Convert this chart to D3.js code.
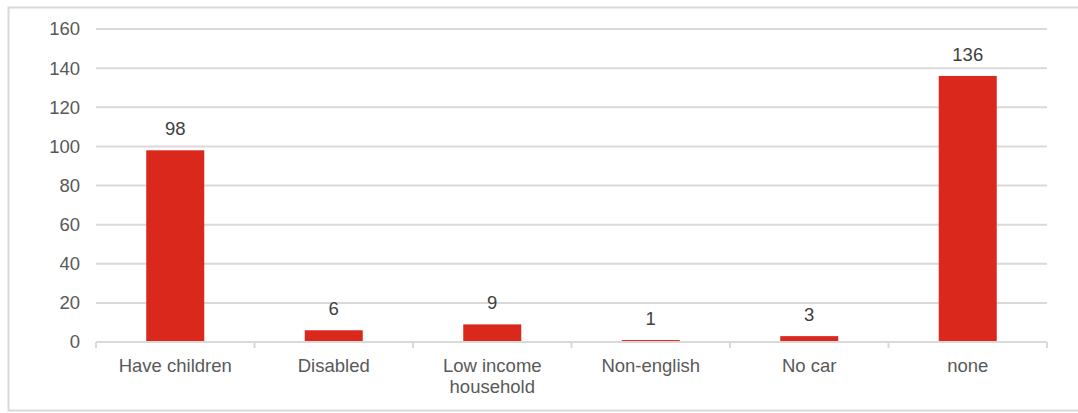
<!DOCTYPE html>
<html><head><meta charset="utf-8">
<script src="https://cdn.jsdelivr.net/npm/d3@7"></script>
<style>body{margin:0;background:#fff}svg{display:block;font-family:"Liberation Sans",Arial,sans-serif}</style>
</head><body><svg id="c" width="1078" height="413"></svg>
<script>
const categories = ["Have children","Disabled","Low income\nhousehold","Non-english","No car","none"];
const values = [98,6,9,1,3,136];
const labels = ["98","6","9","1","3","136"];
const yTicks = [0,20,40,60,80,100,120,140,160];

const svg = d3.select("#c");
const m = {l:96, r:1047, t:29, b:342};
svg.append("rect").attr("x",8.5).attr("y",7.5).attr("width",1080).attr("height",403).attr("fill","none").attr("stroke","#d9d9d9").attr("stroke-width",2);

const x = d3.scaleBand().domain(categories).range([m.l,m.r]).paddingInner(0.634).paddingOuter(0.317);
const y = d3.scaleLinear().domain([0,160]).range([m.b,m.t]);

const grid = svg.append("g");
grid.selectAll("line").data(yTicks.filter(d=>d>0)).join("line")
  .attr("x1",m.l).attr("x2",m.r).attr("y1",d=>y(d)).attr("y2",d=>y(d))
  .attr("stroke","#d9d9d9").attr("stroke-width",2);

const ya = svg.append("g").attr("transform",`translate(${m.l},0)`)
  .call(d3.axisLeft(y).tickValues(yTicks).tickSize(0).tickPadding(16));
ya.select(".domain").remove();
ya.selectAll("text").attr("font-size",18.5).attr("fill","#595959").attr("font-family","Liberation Sans, Arial, sans-serif");

svg.append("g").selectAll("rect").data(values).join("rect")
  .attr("x",(d,i)=>x(categories[i])).attr("width",x.bandwidth())
  .attr("y",d=>y(d)).attr("height",d=>m.b-y(d)).attr("fill","#da291c");

const step = x.step();
const xa = svg.append("g").attr("transform",`translate(0,${m.b})`);
xa.append("line").attr("x1",m.l).attr("x2",m.r).attr("stroke","#d9d9d9").attr("stroke-width",2);
xa.selectAll("line.t").data(d3.range(categories.length+1)).join("line").attr("class","t")
  .attr("x1",i=>m.l+i*step).attr("x2",i=>m.l+i*step).attr("y1",0).attr("y2",6)
  .attr("stroke","#d9d9d9").attr("stroke-width",2);
xa.selectAll("text").data(categories).join("text")
  .attr("text-anchor","middle").attr("font-size",18.5).attr("fill","#595959")
  .attr("transform",d=>`translate(${x(d)+x.bandwidth()/2},30)`)
  .each(function(d){
    const t=d3.select(this);
    d.split("\n").forEach((s,i)=>t.append("tspan").attr("x",0).attr("dy",i?21:0).text(s));
  });

svg.append("g").selectAll("text").data(values).join("text")
  .attr("x",(d,i)=>x(categories[i])+x.bandwidth()/2).attr("y",d=>y(d)-15)
  .attr("text-anchor","middle").attr("font-size",18.5).attr("fill","#404040")
  .text((d,i)=>labels[i]);
</script></body></html>
